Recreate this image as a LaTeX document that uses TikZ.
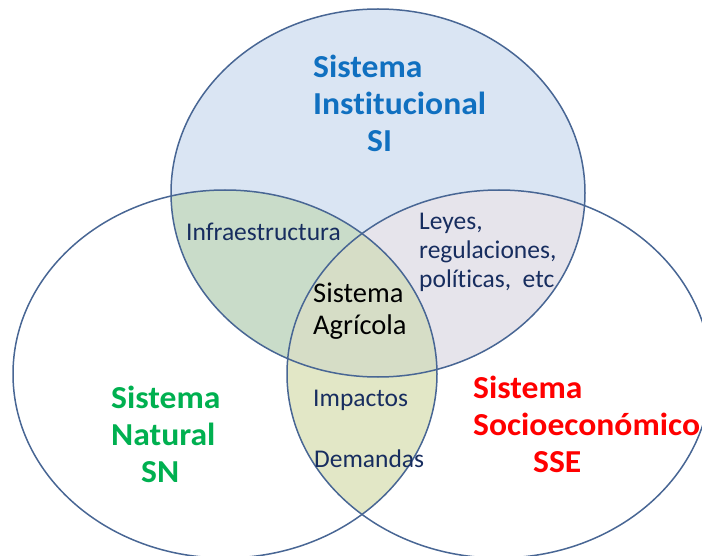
\documentclass[tikz,border=0pt]{standalone}
\usepackage{fontspec}
\setmainfont{Carlito}[Ligatures=NoCommon]
\newfontfamily\titlefont{Carlito}[Ligatures=NoCommon, FakeStretch=1.05]
\definecolor{sicolor}{RGB}{16,112,192}
\definecolor{sncolor}{RGB}{0,176,80}
\definecolor{ssecolor}{RGB}{255,0,0}
\definecolor{textcolor}{RGB}{23,45,95}
\definecolor{linecolor}{RGB}{72,102,148}
\definecolor{fillsi}{RGB}{218,229,243}
\definecolor{fillsisn}{RGB}{201,220,201}
\definecolor{fillsisse}{RGB}{230,228,235}
\definecolor{fillsnsse}{RGB}{226,231,198}
\definecolor{fillall}{RGB}{214,221,198}
\usetikzlibrary{positioning}
\tikzset{
  % curve
	cstset/.style     ={draw=linecolor, line width=1.5pt},
	sirad/.style      ={x radius=207pt, y radius=184pt},
	snrad/.style      ={x radius=212pt, y radius=184pt},
  % node
	csttitle/.style   ={font=\titlefont\fontsize{32}{37}\selectfont\bfseries, align=left, anchor=west, inner sep=0pt},
	csttext/.style    ={font=\fontsize{25.5}{29}\selectfont, text=textcolor, align=left, anchor=west, inner sep=0pt},
	cstcenter/.style  ={font=\fontsize{28.5}{32}\selectfont, text=black, align=left, anchor=west, inner sep=0pt}
}

\begin{document}
\begin{tikzpicture}[x=1pt,y=-1pt]
			\useasboundingbox (0,0) rectangle (702,556);
			\coordinate (si) at (378,193);
			\coordinate (sn) at (225,374);
			\coordinate (sse) at (499,374);
			% fill
			\begin{scope}
				\clip (sn) ellipse [snrad];
				\fill[fillsnsse] (sse) ellipse [snrad];
			\end{scope}
			\fill[fillsi] (si) ellipse [sirad];
			\begin{scope}
				\clip (si) ellipse [sirad];
				\fill[fillsisn] (sn) ellipse [snrad];
				\fill[fillsisse] (sse) ellipse [snrad];
				\clip (sn) ellipse [snrad];
				\fill[fillall] (sse) ellipse [snrad];
			\end{scope}
			% curve
			\draw[cstset] (si) ellipse [sirad];
			\draw[cstset] (sn) ellipse [snrad];
			\draw[cstset] (sse) ellipse [snrad];
			% node
			\node[csttitle,text=sicolor] (nsi) at (313,103) {Sistema\\Institucional\\\hspace*{54pt}SI};
			\node[csttitle,text=sncolor] (nsn) at (111,434) {Sistema\\Natural\\\hspace*{30pt}SN};
			\node[csttitle,text=ssecolor] (nsse) at (473,424) {Sistema\\Socioeconómico\\\hspace*{60pt}SSE};
			\node[csttext] (infra) at (186,232) {Infraestructura};
			\node[csttext] (leyes) at (419,252) {Leyes,\\regulaciones,\\políticas,~ etc};
			\node[cstcenter] (agri) at (313,311) {Sistema\\Agrícola};
			\node[csttext] (impactos) at (313,400) {Impactos};
			\node[csttext] (demandas) at (314,459) {Demandas};
		\end{tikzpicture}
\end{document}
